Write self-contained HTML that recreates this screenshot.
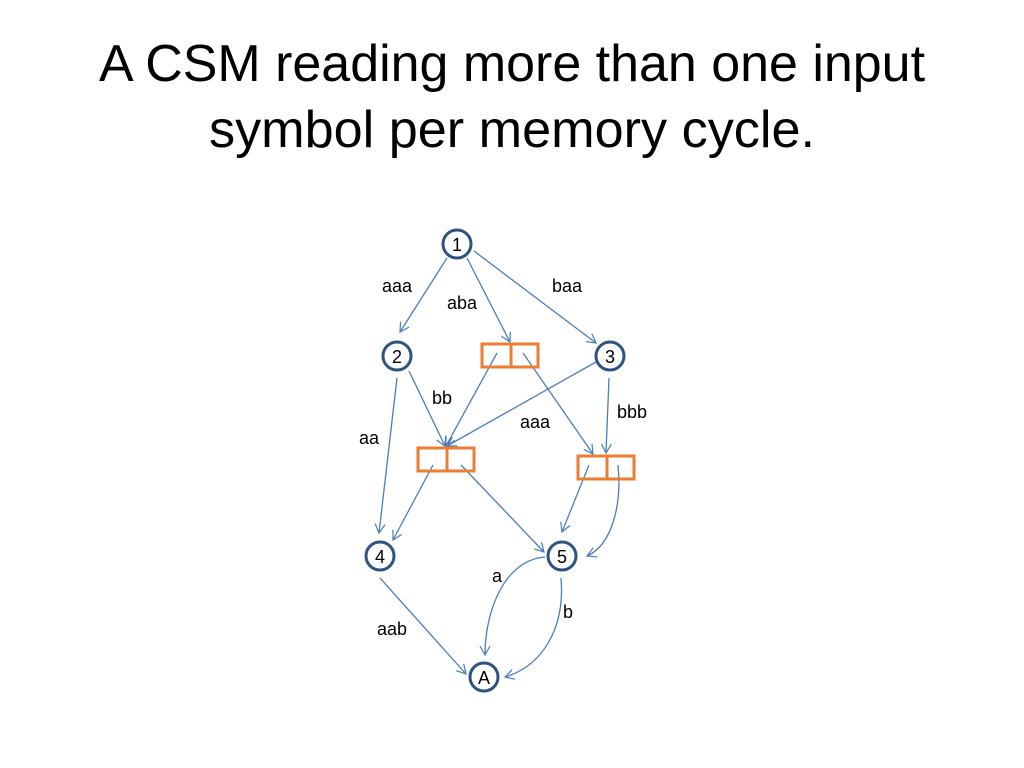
<!DOCTYPE html>
<html><head><meta charset="utf-8"><style>
html,body{margin:0;padding:0;background:#fff;width:1024px;height:768px;overflow:hidden}
svg{display:block}
</style></head><body>
<svg width="1024" height="768" viewBox="0 0 1024 768" xmlns="http://www.w3.org/2000/svg" font-family="Liberation Sans, sans-serif">
<defs>
<marker id="ar" markerWidth="12" markerHeight="12" refX="10" refY="6" orient="auto" markerUnits="userSpaceOnUse">
<path d="M1,1 L10,6 L1,11" fill="none" stroke="#4a7ebb" stroke-width="1.2"/>
</marker>
</defs>
<text x="512" y="81" font-size="52" text-anchor="middle" textLength="826" lengthAdjust="spacingAndGlyphs" fill="#000">A CSM reading more than one input</text>
<text x="512" y="147" font-size="52" text-anchor="middle" textLength="606" lengthAdjust="spacingAndGlyphs" fill="#000">symbol per memory cycle.</text>

<g stroke="#4a7ebb" stroke-width="1.3" fill="none" marker-end="url(#ar)">
<line x1="447" y1="258" x2="400" y2="332"/>
<line x1="467" y1="258" x2="510" y2="342"/>
<line x1="474" y1="251" x2="596" y2="343"/>
<line x1="409" y1="371" x2="445" y2="446"/>
<line x1="397" y1="378" x2="379" y2="533"/>
<line x1="497" y1="353" x2="446" y2="446"/>
<line x1="596" y1="362" x2="447" y2="446"/>
<line x1="523" y1="353" x2="593" y2="454"/>
<line x1="609" y1="378" x2="606" y2="453"/>
<line x1="433" y1="465" x2="393" y2="540"/>
<line x1="461" y1="465" x2="544" y2="552"/>
<line x1="589" y1="465" x2="562" y2="532"/>
<path d="M618,465 C622,505 612,545 587,556"/>
<line x1="380" y1="578" x2="466" y2="674"/>
<path d="M545,557 C505,560 485,610 485,655"/>
<path d="M561,578 C565,625 545,665 505,677"/>
</g>

<g stroke="#ed7d31" stroke-width="3" fill="none">
<rect x="482" y="344" width="56" height="23"/><line x1="511" y1="344" x2="511" y2="367"/>
<rect x="418" y="448" width="56" height="23"/><line x1="447" y1="448" x2="447" y2="471"/>
<rect x="578" y="456" width="56" height="23"/><line x1="607" y1="456" x2="607" y2="479"/>
</g>

<g stroke="#2e5282" stroke-width="3" fill="#fff">
<circle cx="457" cy="244" r="14"/>
<circle cx="397" cy="356" r="14"/>
<circle cx="610" cy="356" r="14"/>
<circle cx="380" cy="556" r="14"/>
<circle cx="562" cy="556" r="14"/>
<circle cx="484" cy="677" r="14"/>
</g>
<g font-size="18" text-anchor="middle" fill="#000">
<text x="457" y="251">1</text>
<text x="397" y="363">2</text>
<text x="610" y="363">3</text>
<text x="380" y="563">4</text>
<text x="562" y="563">5</text>
<text x="484" y="684">A</text>
<text x="397" y="292">aaa</text>
<text x="462" y="309">aba</text>
<text x="567" y="292">baa</text>
<text x="442" y="404">bb</text>
<text x="535" y="428">aaa</text>
<text x="632" y="418">bbb</text>
<text x="369" y="444">aa</text>
<text x="497" y="582">a</text>
<text x="568" y="618">b</text>
<text x="392" y="635">aab</text>
</g>
</svg>
</body></html>
